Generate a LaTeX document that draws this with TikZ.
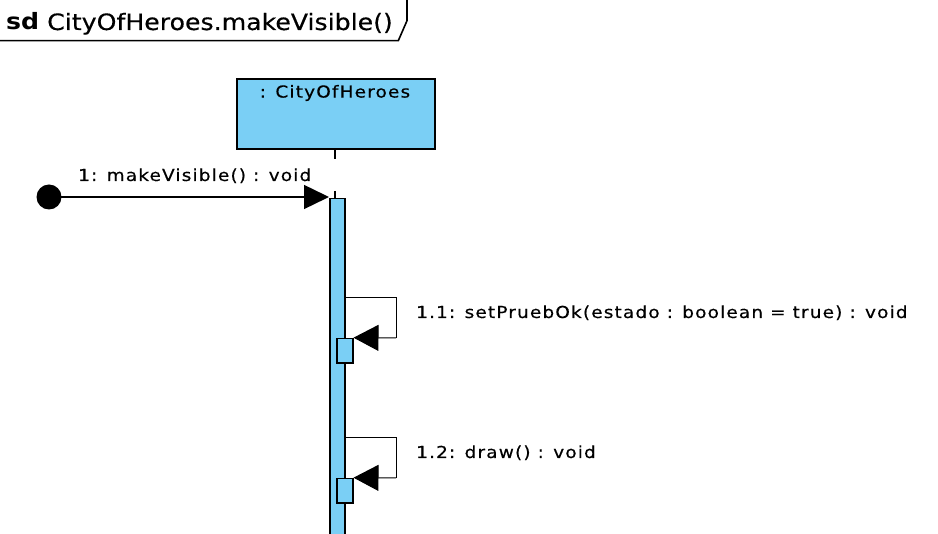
\documentclass[tikz,border=0pt]{standalone}
\usepackage{fontspec}
\setmainfont{DejaVu Sans}[FakeStretch=1.12,LetterSpace=7,UprightFeatures={FakeBold=0.4}]
\newfontfamily\titlefont{DejaVu Sans}[FakeStretch=1.12,UprightFeatures={FakeBold=0.4}]
\usetikzlibrary{arrows.meta}
\definecolor{actblue}{RGB}{122,207,245}
\tikzset{
  lbl/.style={font=\fontsize{16.5pt}{18pt}\selectfont, inner sep=0pt, anchor=west},
  obj/.style={draw, line width=1.6pt, fill=actblue},
  act/.style={draw, line width=1.5pt, fill=actblue},
  msg/.style={line width=1.4pt, -{Triangle[length=25pt,width=24pt]}},
  selfmsg/.style={line width=1pt, -{Triangle[length=25pt,width=26pt]}},
}
\begin{document}
\begin{tikzpicture}[x=1pt,y=-1pt]
\useasboundingbox (0,0) rectangle (938,534);
% frame header
\draw[line width=1.6pt] (0,40.7) -- (398.3,40.7) -- (407,20.7) -- (407,-2);
\node[anchor=base west, inner sep=0pt, font=\titlefont\fontsize{22.5pt}{24pt}\selectfont] (title) at (6,30) {\textbf{sd} CityOfHeroes.makeVisible()};
% lifeline
\node[obj, minimum width=198pt, minimum height=70pt, anchor=north west] (obj) at (236,78) {};
\node[lbl, anchor=center] (objname) at (335,93) {: CityOfHeroes};
\coordinate (ll1) at (335,159);
\coordinate (ll2) at (335,191);
\draw[line width=1.2pt] (obj.south -| ll1) -- (ll1);
\draw[line width=1.2pt] (ll2) -- (335,198);
% activation
\node[act, minimum width=15pt, minimum height=350pt, anchor=north west, inner sep=0pt] (actbar) at (329,198) {};
% found message
\fill (49,197) circle (12.5pt);
\coordinate (start) at (49,197);
\coordinate (end1) at (329,197);
\draw[msg] (start) -- (end1);
\node[lbl, anchor=base west] (m1) at (78,181) {1: makeVisible() : void};
% self message 1.1
\node[act, minimum width=16pt, minimum height=24.5pt, anchor=north west, inner sep=0pt] (a11) at (336,337.7) {};
\coordinate (s11) at (344,297.7);
\coordinate (t11) at (396,297.7);
\coordinate (u11) at (396,338);
\draw[line width=1pt] (s11) -- (t11) -- (u11);
\draw[selfmsg] (u11) -- (a11.north east);
\node[lbl, anchor=base west] (l11) at (416,318) {1.1: setPruebOk(estado : boolean = true) : void};
% self message 1.2
\node[act, minimum width=16pt, minimum height=24.5pt, anchor=north west, inner sep=0pt] (a12) at (336,477.7) {};
\coordinate (s12) at (344,437.7);
\coordinate (t12) at (396,437.7);
\coordinate (u12) at (396,478);
\draw[line width=1pt] (s12) -- (t12) -- (u12);
\draw[selfmsg] (u12) -- (a12.north east);
\node[lbl, anchor=base west] (l12) at (416,458) {1.2: draw() : void};
\end{tikzpicture}
\end{document}
